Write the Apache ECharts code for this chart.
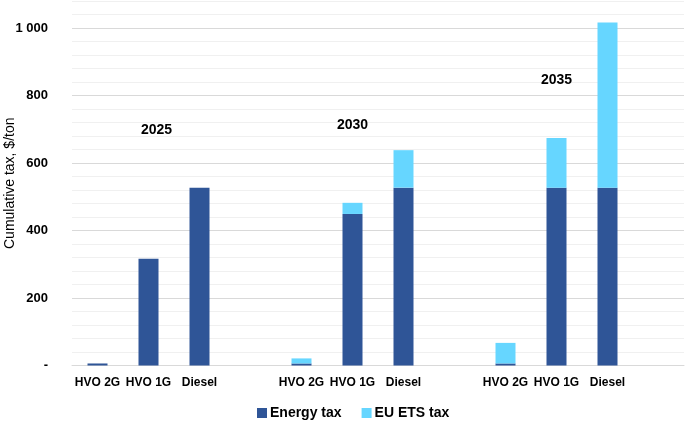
<!DOCTYPE html>
<html>
<head>
<meta charset="utf-8">
<script src="https://cdn.jsdelivr.net/npm/echarts@6/dist/echarts.min.js"></script>
<style>
html,body{margin:0;padding:0;background:#fff;}
#c{width:685px;height:423px;}
</style>
</head>
<body>
<div id="c"></div>
<script>
var categories = ['HVO 2G','HVO 1G','Diesel','','HVO 2G','HVO 1G','Diesel','','HVO 2G','HVO 1G','Diesel',''];
var energyTax = [6, 316, 527, null, 6, 449, 527, null, 6, 527, 527, null];
var euEtsTax  = [0, 0, 0, null, 15, 33, 111, null, 61, 147, 489, null];
var yearLabels = ['2025', '2030', '2035'];
var yearLabelCategory = [1, 5, 9];
var yearLabelValue = [696, 713, 846];
var yearLabelOffset = [8, 0, 0];

var FONT = '"Liberation Sans", Arial, sans-serif';

var chart = echarts.init(document.getElementById('c'), null, {renderer: 'canvas'});

var markData = yearLabels.map(function (t, i) {
  return {
    coord: [yearLabelCategory[i], yearLabelValue[i]],
    label: {formatter: t, offset: [yearLabelOffset[i], 0]}
  };
});

var gridColors = ['#d9d9d9', '#f0f0f0', '#f0f0f0', '#f0f0f0', '#f0f0f0'];

chart.setOption({
  animation: false,
  backgroundColor: '#ffffff',
  grid: {left: 72, right: 1, top: 1, bottom: 57.5, containLabel: false, outerBoundsMode: 'none'},
  legend: {
    data: ['Energy tax', 'EU ETS tax'],
    left: 252, top: 401,
    itemWidth: 10, itemHeight: 10, itemGap: 20,
    icon: 'rect',
    textStyle: {fontFamily: FONT, fontSize: 14, fontWeight: 'bold', color: '#000', padding: [0,0,0,-2]}
  },
  xAxis: {
    type: 'category',
    data: categories,
    axisLine: {show: true, lineStyle: {color: '#d9d9d9', width: 1}},
    axisTick: {show: false},
    axisLabel: {interval: 0, margin: 11, fontFamily: FONT, fontSize: 12, fontWeight: 'bold', color: '#000'}
  },
  yAxis: {
    type: 'value',
    min: 0, max: 1080, interval: 40,
    name: 'Cumulative tax, $/ton',
    nameLocation: 'middle',
    nameGap: 55,
    nameMoveOverlap: false,
    nameTextStyle: {fontFamily: FONT, fontSize: 14, color: '#000'},
    axisLine: {show: false},
    axisTick: {show: false},
    splitLine: {show: true, lineStyle: {color: gridColors, width: 1}},
    axisLabel: {
      margin: 24,
      fontFamily: FONT, fontSize: 13, fontWeight: 'bold', color: '#000',
      formatter: function (v) {
        if (v % 200 !== 0) return '';
        if (v === 0) return '-';
        if (v === 1000) return '1 000';
        return String(v);
      }
    }
  },
  series: [
    {
      name: 'Energy tax', type: 'bar', stack: 'tax', barWidth: 20,
      data: energyTax,
      itemStyle: {color: '#2F5597'}
    },
    {
      name: 'EU ETS tax', type: 'bar', stack: 'tax', barWidth: 20,
      data: euEtsTax,
      itemStyle: {color: '#66D6FF'},
      markPoint: {
        symbol: 'circle', symbolSize: 0,
        label: {show: true, position: 'inside', fontFamily: FONT, fontSize: 14, fontWeight: 'bold', color: '#000'},
        data: markData
      }
    }
  ]
});
</script>
</body>
</html>
